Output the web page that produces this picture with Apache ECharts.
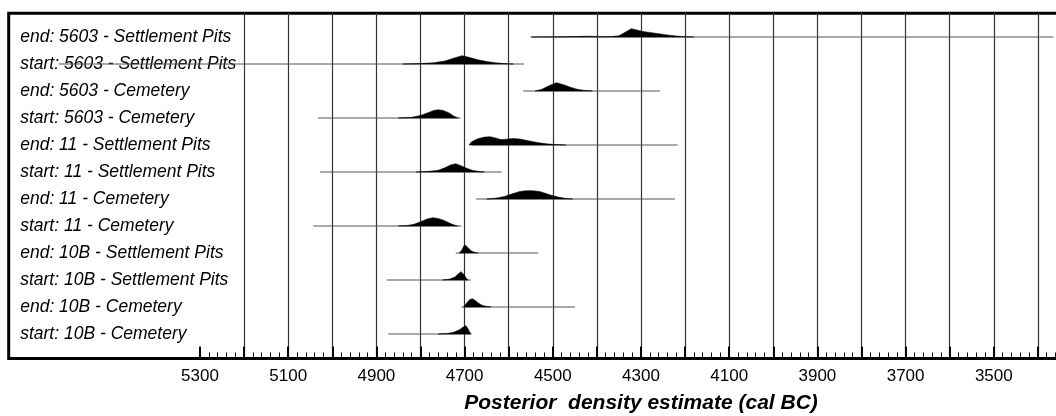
<!DOCTYPE html>
<html>
<head>
<meta charset="utf-8">
<script src="https://cdn.jsdelivr.net/npm/echarts@6/dist/echarts.min.js"></script>
<style>
  html, body { margin: 0; padding: 0; background: #fff; }
  #chart { width: 1056px; height: 416px; }
</style>
</head>
<body>
<div id="chart"></div>
<script>
  // row names, top to bottom
  var rowLabels = [
    'end: 5603 - Settlement Pits',
    'start: 5603 - Settlement Pits',
    'end: 5603 - Cemetery',
    'start: 5603 - Cemetery',
    'end: 11 - Settlement Pits',
    'start: 11 - Settlement Pits',
    'end: 11 - Cemetery',
    'start: 11 - Cemetery',
    'end: 10B - Settlement Pits',
    'start: 10B - Settlement Pits',
    'end: 10B - Cemetery',
    'start: 10B - Cemetery'
  ];

  // range bar of each row (cal BC), older end / younger end
  var rangeFrom = [4548, 5620, 4567, 5032, 4684, 5028, 4674, 5043, 4720, 4877, 4707, 4873];
  var rangeTo   = [3365, 4565, 4257, 4709, 4217, 4616, 4223, 4707, 4533, 4686, 4450, 4684];

  // posterior shapes: [year BC, relative density]
  var end5603Pits = [[4550,0],[4480,0.02],[4430,0.08],[4415,0.1],[4395,0.04],[4370,0.05],[4350,0.15],[4335,0.6],[4322,1],[4310,0.85],[4295,0.65],[4280,0.55],[4260,0.4],[4240,0.25],[4220,0.12],[4200,0.04],[4180,0]];
  var start5603Pits = [[4840,0],[4800,0.05],[4770,0.15],[4745,0.35],[4725,0.7],[4706,1],[4690,0.8],[4670,0.5],[4650,0.3],[4630,0.15],[4610,0.05],[4590,0]];
  var end5603Cem = [[4540,0],[4525,0.2],[4510,0.6],[4492,1],[4475,0.75],[4460,0.45],[4445,0.22],[4430,0.08],[4410,0]];
  var start5603Cem = [[4850,0],[4820,0.08],[4800,0.3],[4785,0.6],[4770,0.9],[4760,1],[4748,0.9],[4735,0.6],[4725,0.25],[4715,0]];
  var end11Pits = [[4690,0],[4684,0.4],[4670,0.75],[4655,0.95],[4642,1],[4630,0.85],[4618,0.65],[4605,0.7],[4590,0.78],[4575,0.72],[4555,0.5],[4535,0.3],[4515,0.15],[4495,0.06],[4470,0]];
  var start11Pits = [[4810,0],[4780,0.08],[4760,0.2],[4745,0.5],[4732,0.85],[4720,1],[4708,0.75],[4695,0.45],[4683,0.22],[4670,0.08],[4655,0]];
  var end11Cem = [[4650,0],[4630,0.1],[4610,0.3],[4590,0.65],[4575,0.9],[4560,1],[4545,1],[4530,0.9],[4515,0.65],[4500,0.4],[4485,0.2],[4470,0.07],[4455,0]];
  var start11Cem = [[4850,0],[4830,0.07],[4815,0.2],[4800,0.5],[4785,0.85],[4772,1],[4760,0.9],[4748,0.7],[4738,0.45],[4728,0.2],[4716,0]];
  var end10BPits = [[4712,0],[4706,0.4],[4700,1],[4693,0.7],[4686,0.3],[4678,0.1],[4670,0]];
  var start10BPits = [[4750,0],[4735,0.1],[4722,0.35],[4714,0.75],[4708,1],[4702,0.7],[4696,0.2],[4692,0]];
  var end10BCem = [[4702,0],[4695,0.5],[4688,0.9],[4682,1],[4675,0.75],[4668,0.45],[4660,0.2],[4650,0.07],[4640,0]];
  var start10BCem = [[4760,0],[4740,0.06],[4725,0.2],[4712,0.5],[4703,0.85],[4697,1],[4692,0.6],[4686,0]];

  var densities = [end5603Pits, start5603Pits, end5603Cem, start5603Cem,
                   end11Pits, start11Pits, end11Cem, start11Cem,
                   end10BPits, start10BPits, end10BCem, start10BCem];

  var peakHeight = 0.31; // in row units
  var font = 'Liberation Sans, Arial, sans-serif';

  var chart = echarts.init(document.getElementById('chart'));

  chart.setOption({
    animation: false,
    grid: [
      // frame
      { left: 8.7, top: 13.2, right: -20, bottom: 57.5, show: true, borderColor: '#000', borderWidth: 3, backgroundColor: 'transparent', outerBoundsMode: 'none' },
      // plot area
      { left: 200, width: 882, top: 13, bottom: 57.5, outerBoundsMode: 'none' },
      // row names
      { left: 8.7, width: 190, top: 23.5, height: 324, outerBoundsMode: 'none' }
    ],
    xAxis: [
      { gridIndex: 0, type: 'value', show: false },
      {
        gridIndex: 1,
        type: 'value',
        inverse: true,
        min: 3300,
        max: 5300,
        interval: 100,
        name: 'Posterior  density estimate (cal BC)',
        nameLocation: 'middle',
        nameGap: 34,
        nameTextStyle: { fontFamily: font, fontSize: 21, fontWeight: 'bold', fontStyle: 'italic', color: '#000' },
        axisLine: { show: true, onZero: false, lineStyle: { color: '#000', width: 3 } },
        axisTick: { show: true, inside: true, length: 12, lineStyle: { color: '#000', width: 2 } },
        minorTick: { show: true, splitNumber: 5, length: 6, lineStyle: { color: '#000', width: 1 } },
        splitLine: { show: true, showMinLine: false, showMaxLine: false, lineStyle: { color: '#333', width: 1.2 } },
        axisLabel: {
          show: true,
          margin: 9,
          showMaxLabel: true,
          fontFamily: font,
          fontSize: 17,
          color: '#000',
          formatter: function (v) { return v % 200 === 100 ? String(v) : ''; }
        }
      },
      { gridIndex: 2, type: 'value', show: false }
    ],
    yAxis: [
      { gridIndex: 0, type: 'value', show: false },
      { gridIndex: 1, type: 'value', inverse: true, min: -0.889, max: 11.907, show: false },
      {
        gridIndex: 2,
        type: 'category',
        inverse: true,
        data: rowLabels,
        axisLine: { show: false },
        axisTick: { show: false },
        splitLine: { show: false },
        axisLabel: {
          inside: true,
          align: 'left',
          margin: 11.5,
          fontFamily: font,
          fontSize: 17.5,
          fontStyle: 'italic',
          color: '#000'
        }
      }
    ],
    series: [
      {
        // range bars
        type: 'custom',
        xAxisIndex: 1,
        yAxisIndex: 1,
        clip: false,
        silent: true,
        encode: { x: [0, 1], y: 2 },
        data: rowLabels.map(function (_, i) { return [rangeFrom[i], rangeTo[i], i]; }),
        renderItem: function (params, api) {
          var p1 = api.coord([api.value(0), api.value(2)]);
          var p2 = api.coord([api.value(1), api.value(2)]);
          return {
            type: 'line',
            shape: { x1: p1[0], y1: p1[1], x2: p2[0], y2: p2[1] },
            style: { stroke: '#555', lineWidth: 1 }
          };
        }
      },
      {
        // posterior distributions
        type: 'custom',
        xAxisIndex: 1,
        yAxisIndex: 1,
        clip: false,
        silent: true,
        encode: { x: 0, y: 1 },
        data: densities.map(function (d, i) { return [d[0][0], i]; }),
        renderItem: function (params, api) {
          var row = api.value(1);
          var pts = densities[params.dataIndex].map(function (p) {
            return api.coord([p[0], row - p[1] * peakHeight]);
          });
          return {
            type: 'polygon',
            shape: { points: pts },
            style: { fill: '#000', stroke: '#000', lineWidth: 0.5 }
          };
        }
      }
    ]
  });
</script>
</body>
</html>
